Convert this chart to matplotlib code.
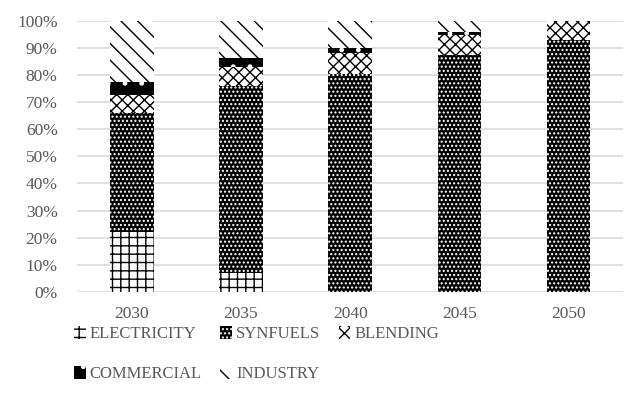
import matplotlib
matplotlib.use('Agg')
import matplotlib.pyplot as plt
import numpy as np

# datos (porcentaje de cada uso por año)
years = ['2030', '2035', '2040', '2045', '2050']
electricity = [22, 7, 0, 0, 0]
synfuels = [44, 69, 80.5, 87.5, 93]
blending = [6.5, 7, 7.5, 7.5, 7]
commercial = [5, 3.5, 2, 1, 0]
industry = [22.5, 13.5, 10, 4, 0]

series = [
    ('ELECTRICITY', electricity, dict(facecolor='white', edgecolor='black', hatch='++')),
    ('SYNFUELS', synfuels, dict(facecolor='black', edgecolor='white', hatch='....')),
    ('BLENDING', blending, dict(facecolor='white', edgecolor='black', hatch='xxx')),
    ('COMMERCIAL', commercial, dict(facecolor='black', edgecolor='white', hatch='.')),
    ('INDUSTRY', industry, dict(facecolor='white', edgecolor='black', hatch='\\\\')),
]

plt.rcParams['font.family'] = ['Liberation Serif', 'DejaVu Serif']
plt.rcParams['hatch.linewidth'] = 1.0
gris = '#595959'

fig = plt.figure(figsize=(6.27, 4.11), dpi=100)
ax = fig.add_axes([0.123, 0.290, 0.871, 0.659])

x = np.arange(len(years))
base = np.zeros(len(years))
barras = {}
for nombre, vals, estilo in series:
    v = np.array(vals) / 100.0
    barras[nombre] = ax.bar(x, v, bottom=base, width=0.4, linewidth=0,
                            label=nombre, **estilo)
    base += v

ax.set_xlim(-0.5, len(years) - 0.5)
ax.set_ylim(0, 1.0)
ticks_y = np.arange(0, 1.01, 0.1)
ax.set_yticks(ticks_y)
ax.set_yticklabels([f'{int(round(t * 100))}%' for t in ticks_y])
ax.set_xticks(x)
ax.set_xticklabels(years)
ax.tick_params(length=0, colors=gris, labelsize=12.5)
ax.tick_params(axis='x', pad=10)
ax.tick_params(axis='y', pad=14)
ax.yaxis.grid(True, color='#d9d9d9', linewidth=1.2)
ax.set_axisbelow(True)
for s in ax.spines.values():
    s.set_visible(False)

# orden por columnas para que las filas queden como en el original
orden = ['ELECTRICITY', 'COMMERCIAL', 'SYNFUELS', 'INDUSTRY', 'BLENDING']
leg = fig.legend([barras[n] for n in orden], orden,
                 loc='upper left', bbox_to_anchor=(0.118, 0.207), ncol=3,
                 frameon=False, fontsize=12, handlelength=0.7, handleheight=0.8,
                 handletextpad=0.25, columnspacing=1.1, labelspacing=1.45,
                 borderpad=0, borderaxespad=0)
for t in leg.get_texts():
    t.set_color(gris)

fig.savefig('out.png', dpi=100)
